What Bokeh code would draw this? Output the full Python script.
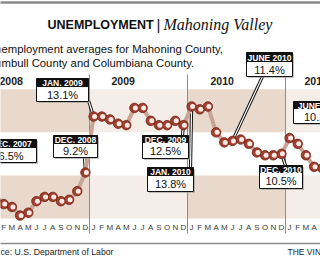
from bokeh.plotting import figure
from bokeh.models import Range1d, ColumnDataSource
from bokeh.core.properties import value
from bokeh.embed import file_html
from bokeh.resources import INLINE

# ---------------- data ----------------
month_letters = ["J", "F", "M", "A", "M", "J", "J", "A", "S", "O", "N", "D"]
year_labels = ["2008", "2009", "2010", "2011"]
rate_2007_dec = [6.5]
rate_2008 = [7.3, 7.0, 6.8, 6.2, 6.4, 7.2, 7.5, 7.5, 7.2, 7.3, 7.9, 9.2]
rate_2009 = [13.1, 13.1, 12.9, 12.6, 12.5, 13.7, 13.7, 12.8, 12.5, 12.5, 12.8, 12.5]
rate_2010 = [13.8, 13.6, 13.8, 12.0, 11.3, 11.4, 11.5, 11.2, 10.6, 10.4, 10.4, 10.5]
rate_2011 = [11.6, 11.2, 10.4, 9.6, 9.5, 10.2]
callout_heads = ["DEC. 2007", "JAN. 2009", "DEC. 2008", "DEC. 2009",
                 "JAN. 2010", "JUNE 2010", "DEC. 2010", "JUNE 2011"]
callout_month = [-1, 12, 11, 23, 24, 29, 35, 41]   # month index, Jan 2008 = 0

rates = rate_2007_dec + rate_2008 + rate_2009 + rate_2010 + rate_2011
months = list(range(-1, -1 + len(rates)))

# ---------------- layout helpers (pixel -> data) ----------------
X0 = -4.9          # pixel of month 0
DXP = 98.0 / 12.0  # pixels per month
Y_REF_PX, Y_REF_V, PX_PER_PCT = 106.0, 13.8, 14.35


def dx(px):
    return (px - X0) / DXP


def dy(py):
    return Y_REF_V - (py - Y_REF_PX) / PX_PER_PCT


SANS = "Liberation Sans"
SERIF = "Liberation Serif"

p = figure(width=320, height=256, output_backend="svg", toolbar_location=None,
           x_range=Range1d(dx(0), dx(320)), y_range=Range1d(dy(256), dy(0)),
           x_axis_location=None, y_axis_location=None,
           min_border=0, min_border_left=0, min_border_right=0,
           min_border_top=0, min_border_bottom=0)
p.outline_line_color = None
p.grid.visible = False
p.background_fill_color = "white"
p.border_fill_color = "white"

# ---------------- background bands ----------------
dark, light = "#e9d9cc", "#f5eee8"
for k in range(4):
    col = dark if k % 2 == 0 else light
    for lo, hi in [(6, 9), (12, 15)]:
        p.quad(left=12 * k - 0.5, right=12 * k + 11.5, bottom=lo, top=hi,
               fill_color=col, line_color=None)

# year separators
for k in range(1, 4):
    p.segment(x0=12 * k - 0.5, x1=12 * k - 0.5, y0=dy(74), y1=dy(233),
              line_color="#8c8c8c", line_width=1)

# month letters (only those inside the window)
shown = list(range(1, 40))
p.text(x=shown, y=[dy(226.5)] * len(shown),
       text=[month_letters[m % 12] for m in shown],
       text_font=value(SANS), text_font_size="8px", text_color="#3a3a3a",
       text_align="center", text_baseline="middle")

# year labels
p.text(x=[dx(-1), dx(111), dx(210), dx(304)], y=[dy(80)] * 4, text=year_labels,
       text_font=value(SANS), text_font_style="bold", text_font_size="10.5px",
       text_color="#222222", text_align="left", text_baseline="middle")

# top and bottom rules
p.segment(x0=dx(-5), x1=dx(325), y0=dy(2), y1=dy(2), line_color="#8a8a8a", line_width=2.5)
p.segment(x0=dx(-5), x1=dx(325), y0=dy(243), y1=dy(243), line_color="#8a8a8a", line_width=1.5)

# titles
p.text(x=[dx(47)], y=[dy(24)], text=["UNEMPLOYMENT"], text_font=value(SANS),
       text_font_style="bold", text_font_size="12.5px", text_color="#111111",
       text_baseline="middle")
p.text(x=[dx(156)], y=[dy(24)], text=["|"], text_font=value(SANS),
       text_font_size="15px", text_color="#111111", text_baseline="middle")
p.text(x=[dx(163)], y=[dy(24)], text=["Mahoning Valley"], text_font=value(SERIF),
       text_font_style="italic", text_font_size="16px", text_color="#111111",
       text_baseline="middle")
p.text(x=[dx(-13.4), dx(-15.5)], y=[dy(48.5), dy(62)],
       text=["Unemployment averages for Mahoning County,",
             "Trumbull County and Columbiana County."],
       text_font=value(SANS), text_font_size="11.3px", text_color="#111111",
       text_baseline="middle")
p.text(x=[dx(-18.4)], y=[dy(251.5)], text=["Source: U.S. Department of Labor"],
       text_font=value(SANS), text_font_size="8.7px", text_color="#222222",
       text_baseline="middle")
p.text(x=[dx(287)], y=[dy(251)], text=["THE VINDICATOR"],
       text_font=value(SANS), text_font_size="8.5px", text_color="#222222",
       text_baseline="middle")

# ---------------- callouts ----------------
# box layout in pixels: left, right, top, header-bottom, bottom, leader start
box_px = [(-15, 36, 139, 147, 162, None),
          (36, 88, 78, 86, 101, (88, 100)),
          (53, 97, 135, 143, 157, (84, 157)),
          (142, 188, 135, 142, 158, (182, 135)),
          (147, 193, 167, 175, 191, (190, 167)),
          (246, 292, 52, 61, 76, (262, 76)),
          (259, 302, 165, 172, 188, (285, 165)),
          (293, 345, 101, 108, 123, None)]

rate_of = dict(zip(months, rates))

# leaders (double line)
for (l, r, t, hb, b, lead), m in zip(box_px, callout_month):
    if lead is None:
        continue
    p.line(x=[dx(lead[0]), m], y=[dy(lead[1]), rate_of[m]], line_color="#111111", line_width=3.2)
    p.line(x=[dx(lead[0]), m], y=[dy(lead[1]), rate_of[m]], line_color="white", line_width=1.2)

# series line and markers
src = ColumnDataSource(dict(m=months, v=rates, mh=[mm + 0.12 for mm in months]))
p.line("m", "v", source=src, line_color="#c9a394", line_width=4)
p.scatter("m", "v", source=src, size=9.5, fill_color="#a13e2d", line_color="#6e2416", line_width=0.8)
p.scatter("mh", "v", source=src, size=5, fill_color="#fbeae5", line_color=None)

for (l, r, t, hb, b, lead), m, head in zip(box_px, callout_month, callout_heads):
    p.quad(left=dx(l + 1.5), right=dx(r + 1.5), top=dy(t + 1.5), bottom=dy(b + 1.5),
           fill_color="#9a9a9a", fill_alpha=0.6, line_color=None)
    p.quad(left=dx(l), right=dx(r), top=dy(hb), bottom=dy(b),
           fill_color="white", line_color="#111111", line_width=1)
    p.quad(left=dx(l), right=dx(r), top=dy(t), bottom=dy(hb),
           fill_color="#111111", line_color="#111111", line_width=1)
    cx = dx((l + r) / 2)
    p.text(x=[cx], y=[dy((t + hb) / 2 + 0.5)], text=[head], text_font=value(SANS),
           text_font_style="bold", text_font_size="8.5px", text_color="white",
           text_align="center", text_baseline="middle")
    p.text(x=[cx], y=[dy((hb + b) / 2 + 0.8)], text=[f"{rate_of[m]:.1f}%"],
           text_font=value(SANS), text_font_size="11px", text_color="#111111",
           text_align="center", text_baseline="middle")

open("out.html", "w").write(file_html(p, INLINE))
